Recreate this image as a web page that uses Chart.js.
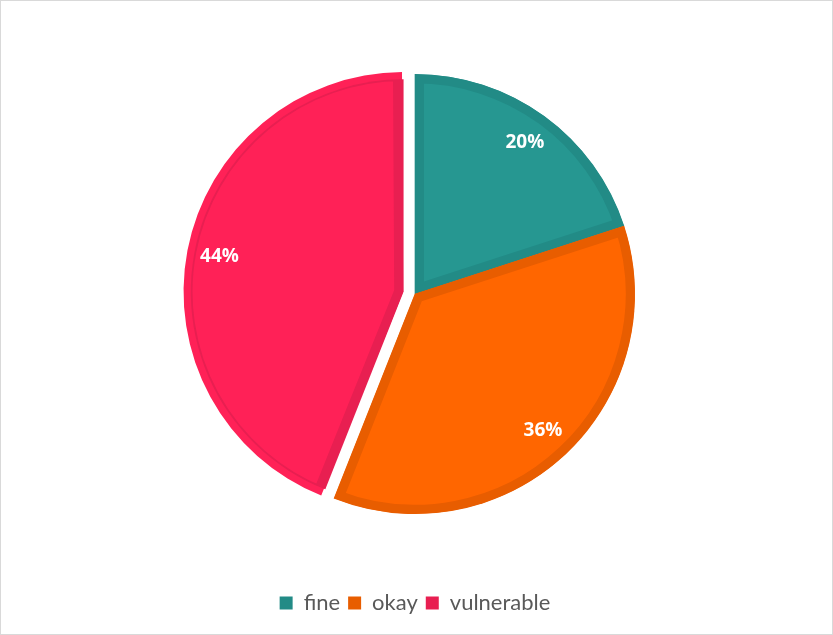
<!DOCTYPE html>
<html>
<head>
<meta charset="utf-8">
<script src="https://cdn.jsdelivr.net/npm/chart.js@4/dist/chart.umd.min.js"></script>
<style>
  body { margin: 0; background: #fff; }
  #frame { width: 833px; height: 635px; box-sizing: border-box; border: 1px solid #d9d9d9; }
  #frame canvas { display: block; }
</style>
</head>
<body>
<div id="frame"><canvas id="ctx_status_pie" width="831" height="633"></canvas></div>
<script>
var categories   = ['fine', 'okay', 'vulnerable'];
var percentages  = [20, 36, 44];
var sliceOffsets = [0, 0, 48];
var fillColors   = ['#269791', '#ff6600', '#ff2157'];
var edgeColors   = ['#228b86', '#e85d00', '#e81f51'];

// the arc element moves an offset slice by offset/4 and also widens it;
// take the widening back so the pulled-out slice keeps the same radius
function radiusGrowth(arc, offset) {
    var circ = arc.endAngle - arc.startAngle;
    return (offset / 4) * (1 - Math.sin(Math.min(Math.PI, circ || 0)));
}

var keepRadius = {
    id: 'keepRadius',
    afterDatasetsUpdate: function(chart) {
        chart.getDatasetMeta(0).data.forEach(function(arc, i) {
            if (sliceOffsets[i]) {
                arc.outerRadius -= radiusGrowth(arc, sliceOffsets[i]);
            }
        });
    }
};

// white percentage inside each slice, along the slice's middle angle
var sliceLabels = {
    id: 'sliceLabels',
    afterDatasetsDraw: function(chart) {
        var ctx = chart.ctx;
        var meta = chart.getDatasetMeta(0);
        ctx.save();
        ctx.font = 'bold 19px "Open Sans"';
        ctx.fillStyle = '#ffffff';
        ctx.textAlign = 'center';
        ctx.textBaseline = 'middle';
        meta.data.forEach(function(arc, i) {
            var p = arc.getProps(['x', 'y', 'startAngle', 'endAngle'], true);
            var mid = (p.startAngle + p.endAngle) / 2;
            var d = sliceOffsets[i] / 4 + 220 * 0.85;
            ctx.fillText(percentages[i] + '%', p.x + Math.cos(mid) * d, p.y + Math.sin(mid) * d);
        });
        ctx.restore();
    }
};

var ctx = document.getElementById('ctx_status_pie');
var myChart = new Chart(ctx, {
    type: 'pie',
    data: {
        labels: categories,
        datasets: [{
            data: percentages,
            backgroundColor: fillColors,
            borderColor: edgeColors,
            borderWidth: 9,
            borderAlign: 'inner',
            offset: sliceOffsets,
            radius: 220
        }]
    },
    options: {
        responsive: false,
        animation: false,
        layout: {
            padding: { top: 3, left: 0, right: 3, bottom: 10 }
        },
        plugins: {
            tooltip: { enabled: false },
            legend: {
                position: 'bottom',
                labels: {
                    boxWidth: 13,
                    boxHeight: 13,
                    padding: 8,
                    color: '#595959',
                    font: { family: 'Lato', size: 22 },
                    generateLabels: function(chart) {
                        return categories.map(function(name, i) {
                            return {
                                text: name,
                                fillStyle: edgeColors[i],
                                strokeStyle: edgeColors[i],
                                lineWidth: 0,
                                fontColor: '#595959',
                                index: i
                            };
                        });
                    }
                }
            }
        }
    },
    plugins: [keepRadius, sliceLabels]
});
</script>
</body>
</html>
